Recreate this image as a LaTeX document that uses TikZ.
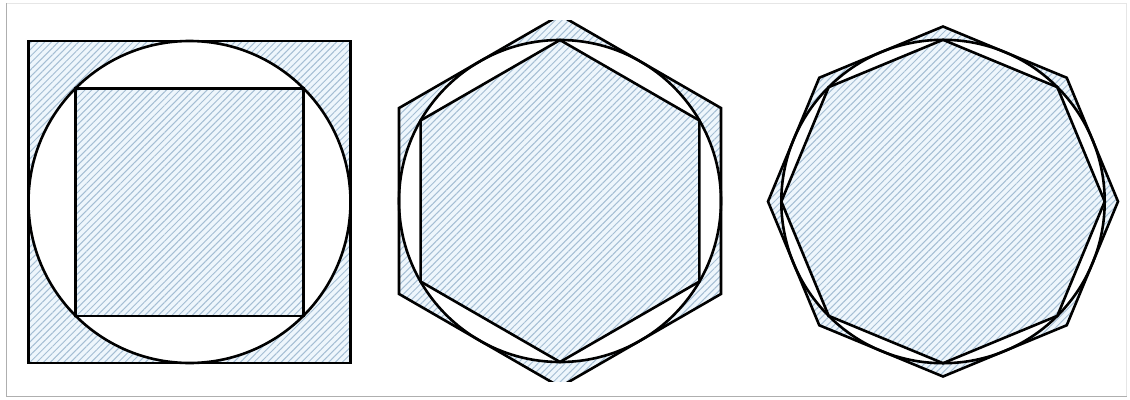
\documentclass[tikz,border=0pt]{standalone}
\usetikzlibrary{patterns.meta}
\definecolor{hatchbg}{RGB}{238,246,252}
\definecolor{hatchln}{RGB}{165,190,212}
\definecolor{framedark}{RGB}{175,175,175}
\definecolor{framelight}{RGB}{230,230,230}
\begin{document}
\begin{tikzpicture}[x=1pt,y=-1pt,
  hatch/.style={preaction={fill=hatchbg, even odd rule}, even odd rule, pattern={Lines[angle=45,distance=4.8pt,line width=1pt]}, pattern color=hatchln},
  outline/.style={draw=black, line width=2.6pt, line join=miter}]
\useasboundingbox (0,0) rectangle (1130,399);
\fill[white] (0,0) rectangle (1130,399);
% frame
\draw[framelight, line width=1pt] (6.5,3) -- (1126.5,3) -- (1126.5,396.5);
\draw[framedark, line width=1.6pt] (6.5,3) -- (6.5,396.5) -- (1126.5,396.5);

% figure 1: squares and circle
\begin{scope}[shift={(189.5,202)}]
  \path[hatch] (-161,-161) rectangle (161,161) (0,0) circle (161);
  \path[hatch] (-113.8,-113.8) rectangle (113.8,113.8);
  \draw[outline] (-161,-161) rectangle (161,161);
  \draw[outline] (0,0) circle (161);
  \draw[outline] (-113.8,-113.8) rectangle (113.8,113.8);
\end{scope}

% figure 2: hexagons and circle
\begin{scope}[shift={(560,201)}]
  \begin{scope}
    \clip (-200,-181) rectangle (200,180);
    \path[hatch] (90:185.9) -- (150:185.9) -- (210:185.9) -- (270:185.9) -- (330:185.9) -- (30:185.9) -- cycle (0,0) circle (161);
    \draw[outline] (90:185.9) -- (150:185.9) -- (210:185.9) -- (270:185.9) -- (330:185.9) -- (30:185.9) -- cycle;
  \end{scope}
  \path[hatch] (90:161) -- (150:161) -- (210:161) -- (270:161) -- (330:161) -- (30:161) -- cycle;
  \draw[outline] (0,0) circle (161);
  \draw[outline] (90:161) -- (150:161) -- (210:161) -- (270:161) -- (330:161) -- (30:161) -- cycle;
\end{scope}

% figure 3: octagons and circle
\begin{scope}[shift={(943,201.5)}]
  \path[hatch] (90:175) -- (135:175) -- (180:175) -- (225:175) -- (270:175) -- (315:175) -- (0:175) -- (45:175) -- cycle (0,0) circle (161.7);
  \path[hatch] (90:161.7) -- (135:161.7) -- (180:161.7) -- (225:161.7) -- (270:161.7) -- (315:161.7) -- (0:161.7) -- (45:161.7) -- cycle;
  \draw[outline] (90:175) -- (135:175) -- (180:175) -- (225:175) -- (270:175) -- (315:175) -- (0:175) -- (45:175) -- cycle;
  \draw[outline] (0,0) circle (161.7);
  \draw[outline] (90:161.7) -- (135:161.7) -- (180:161.7) -- (225:161.7) -- (270:161.7) -- (315:161.7) -- (0:161.7) -- (45:161.7) -- cycle;
\end{scope}
\end{tikzpicture}
\end{document}
